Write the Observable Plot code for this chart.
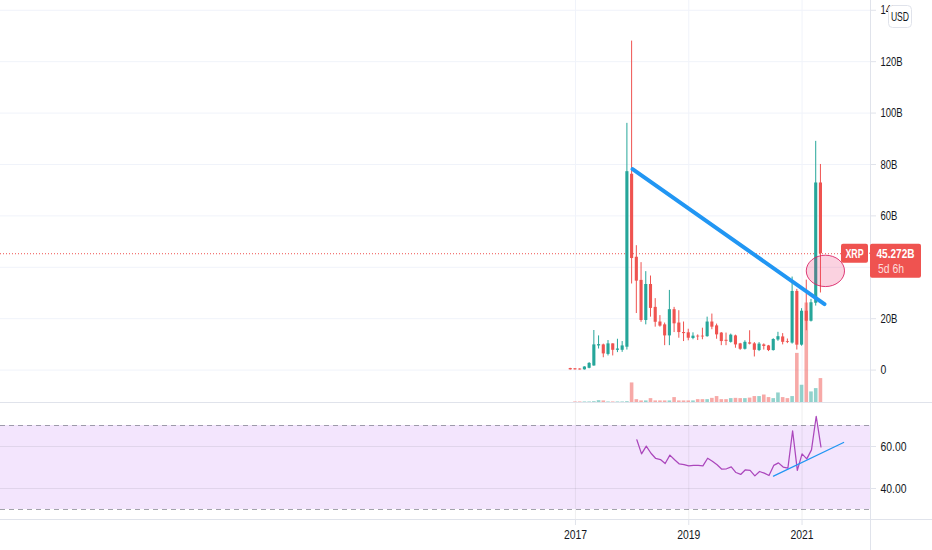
<!DOCTYPE html>
<html>
<head>
<meta charset="utf-8">
<script src="https://cdn.jsdelivr.net/npm/d3@7"></script>
<script src="https://cdn.jsdelivr.net/npm/@observablehq/plot@0.6"></script>
<style>
html,body{margin:0;padding:0;background:#fff;}
#chart{width:932px;height:550px;overflow:hidden;}
#chart svg{display:block;background:#fff;}
</style>
</head>
<body>
<div id="chart"></div>
<script>
// Monthly candles, December 2016 to May 2021 (values in billions of USD)
const firstMonth = -1; // months from January 2017
const opens  = [0.6,0.5,0.4,0.1,0.7,1.6,9.4,9.8,6.1,10.2,7.7,7.7,8.9,76.2,43.9,34.9,19.3,33.3,24.4,18.7,17.6,13.3,23.5,18.3,14.6,14.5,12.3,13.2,13.2,13,18.7,17.2,14.4,11.6,10.8,13.3,10.2,8.1,10.6,10.2,7.6,9.8,9.4,7.6,11.7,12.9,11.1,10.5,30.6,9.7,22.9,19,26,72.8];
const closes = [0.1,0.1,0.05,1.2,2.6,9.8,9.9,6.3,10.2,7.7,8.2,9.4,77.2,43.4,34.6,19.3,33.3,24,18.6,17.1,13.3,23.5,18,14.6,14.2,12.4,13.2,12.9,12.9,18.7,16.7,13.7,11.1,11.2,13.6,9.8,8.1,10.8,10.1,7.7,10.1,9.2,7.6,11.9,13,10.8,10.8,30.6,9.7,22.9,19,26.2,72.8,45.272];
const highs  = [0.7,0.6,0.5,1.3,2.9,15.4,13.3,10.1,11.5,10.2,12,11.1,96,128,48.4,41.8,38.3,36.6,27.8,21.2,18.3,31,24.4,23.1,18.7,15.9,14.5,13.7,16.3,20.6,21.8,17.9,14.6,14.4,14,13.6,10.4,11.4,15.3,10.7,10.7,10.2,9.6,12.2,14.7,14.2,12.1,36.2,31.4,23.9,35,27.5,89,80];
const lows   = [0,0,0,0,0.5,1.5,8.2,4.8,5.5,5.5,6.8,6.9,7.8,33.5,22,18.6,17.6,20.6,16.7,16.7,9.5,9.5,14.6,12.4,11.1,11.4,11.8,11.5,11.8,12.8,15.7,12,9.5,9.5,10.5,8.5,7.7,7.8,9.8,5.1,7.2,7.8,7.2,7.4,11.2,9.8,10.3,10.1,7.8,9.3,15.3,18.7,24.9,30];
const volumes= [0,0.4,0.4,0.4,0.4,0.5,0.9,0.8,0.4,0.4,0.4,0.4,0.5,7.8,1.3,0.8,0.8,1.7,0.8,0.8,0.8,0.8,2.1,0.8,0.8,0.8,0.8,1.3,1.3,1.3,1.8,2.5,1.3,1.3,1.7,1.8,1.7,1.7,1.9,2.5,2.5,3.1,2.1,1.7,3.9,2.1,1.7,2.5,19.3,6.9,38.9,4.3,5.6,9.5];

// RSI, February 2018 to May 2021
const rsiFirstMonth = 13;
const rsi = [63.2,56.5,60.2,56.8,54.3,53.8,51.9,55.9,53.7,51.7,51.4,50.8,51,51,50.8,54.4,53,51.3,49.2,49.4,50.3,47.6,46.7,48.9,48.6,46,48.1,47.3,46.2,51,52.2,50.2,49.7,67.5,48.6,56.5,54.1,58.4,74.4,59.8];

// Hand-drawn annotations
const priceTrendMonths = [12.1, 52.75];
const priceTrendValues = [78.2, 25.7];
const rsiTrendMonths = [41.95, 56.8];
const rsiTrendValues = [45.9, 61.9];
const ellipseMonths = [49, 57.1];
const ellipseValues = [44.5, 32.3];

// Labels
const priceTicks = [0,20,40,60,80,100,120,140];
const rsiTicks = [40,60];
const yearTicks = [0,24,48];
const yearLabels = ["2017","2019","2021"];
const lastPrice = 45.272;
const lastPriceLabel = "45.272B";
const countdownLabel = "5d 6h";
const symbolLabel = "XRP";
const currencyLabel = "USD";

const UP = "#26a69a", DOWN = "#ef5350", GRID = "#f0f3fa", BORDER = "#e0e3eb", INK = "#131722";
const FONT = "'Liberation Sans',sans-serif";
const xDomain = [-121.8, 62.5];

const candles = opens.map((o,i)=>({m:firstMonth+i,o,c:closes[i],h:highs[i],l:lows[i],v:volumes[i],col:closes[i]>=o?UP:DOWN}));
const rsiData = rsi.map((v,i)=>({m:rsiFirstMonth+i,v}));
const priceTrend = priceTrendMonths.map((m,i)=>({m,v:priceTrendValues[i]}));
const rsiTrend = rsiTrendMonths.map((m,i)=>({m,v:rsiTrendValues[i]}));
const paneFloor = -13;
const volBase = -12.8;

const svgNS = "http://www.w3.org/2000/svg";
function el(name, attrs, text){
  const n = document.createElementNS(svgNS,name);
  for(const k in attrs) n.setAttribute(k,attrs[k]);
  if(text!==undefined) n.textContent=text;
  return n;
}

function ellipseMark(index,{x,y}){
  const x1=x(ellipseMonths[0]),x2=x(ellipseMonths[1]),y1=y(ellipseValues[0]),y2=y(ellipseValues[1]);
  return el("ellipse",{cx:(x1+x2)/2,cy:(y1+y2)/2,rx:Math.abs(x2-x1)/2,ry:Math.abs(y2-y1)/2,
    fill:"#e91e63","fill-opacity":0.2,stroke:"#d81b60","stroke-opacity":0.85,"stroke-width":1});
}

function tagsMark(index,{y},_,dim){
  const g=el("g",{});
  const ax=dim.width-dim.marginRight, py=y(lastPrice);
  g.append(el("line",{x1:ax-1,x2:ax+5,y1:py,y2:py,stroke:DOWN}));
  g.append(el("rect",{x:ax-29,y:py-9.5,width:27,height:19,rx:2,fill:DOWN}));
  g.append(el("text",{x:ax-15.5,y:py+4.5,"text-anchor":"middle",fill:"#fff","font-size":13,"font-weight":"bold","font-family":FONT,"data-squeeze":0.68},symbolLabel));
  g.append(el("rect",{x:ax,y:py-9.5,width:51,height:34,rx:2,fill:DOWN}));
  g.append(el("text",{x:ax+25.5,y:py+4.5,"text-anchor":"middle",fill:"#fff","font-size":13,"font-weight":"bold","font-family":FONT,"data-squeeze":0.77},lastPriceLabel));
  g.append(el("text",{x:ax+8,y:py+20,"text-anchor":"start",fill:"#fff","fill-opacity":0.8,"font-size":13,"font-family":FONT,"data-squeeze":0.8},countdownLabel));
  g.append(el("rect",{x:ax+18.5,y:5.5,width:23,height:22,rx:4,fill:"#fff",stroke:BORDER}));
  g.append(el("text",{x:ax+30,y:21,"text-anchor":"middle",fill:INK,"font-size":12,"font-family":FONT,"data-squeeze":0.72},currencyLabel));
  // separator under the price pane, running through the right-hand scale
  g.append(el("line",{x1:0,x2:dim.width,y1:dim.height-0.5,y2:dim.height-0.5,stroke:BORDER}));
  return g;
}

const pricePlot = Plot.plot({
  width:932, height:403, marginTop:0, marginBottom:0, marginLeft:0, marginRight:62,
  style:{fontFamily:FONT,fontSize:"13px",background:"#fff",overflow:"hidden"},
  x:{type:"linear",domain:xDomain,axis:null},
  y:{domain:[paneFloor,143.8],label:null,axis:null},
  marks:[
    Plot.ruleY(priceTicks,{stroke:GRID,strokeWidth:1}),
    Plot.ruleX(yearTicks,{stroke:GRID,strokeWidth:1}),
    Plot.axisY({anchor:"right",ticks:priceTicks,tickFormat:d=>d===0?"0":d+"B",tickSize:5,tickPadding:5,label:null,stroke:BORDER,strokeOpacity:1,fill:INK,fontSize:13}),
    Plot.rect(candles,{x1:d=>d.m-0.38,x2:d=>d.m+0.38,y1:volBase,y2:d=>volBase+d.v,fill:"col",fillOpacity:0.5,inset:0}),
    Plot.ruleY([lastPrice],{stroke:DOWN,strokeDasharray:"1,2",strokeWidth:1}),
    Plot.ruleX(candles,{x:"m",y1:"l",y2:"h",stroke:"col",strokeWidth:1,dx:-0.5}),
    Plot.rect(candles,{x1:d=>d.m-0.33,x2:d=>d.m+0.33,y1:d=>Math.min(d.o,d.c),y2:d=>Math.max(d.o,d.c),fill:"col",inset:0}),
    ellipseMark,
    Plot.line(priceTrend,{x:"m",y:"v",stroke:"#2196f3",strokeWidth:4}),
    Plot.ruleX([62.5],{stroke:BORDER,strokeWidth:1}),
    tagsMark
  ]
});

const rsiPlot = Plot.plot({
  width:932, height:147, marginTop:0, marginBottom:30, marginLeft:0, marginRight:62,
  style:{fontFamily:FONT,fontSize:"13px",background:"#fff",overflow:"hidden"},
  x:{type:"linear",domain:xDomain,label:null,axis:null},
  y:{domain:[24.76,80.48],label:null,axis:null},
  marks:[
    Plot.rect([{a:30,b:70}],{x1:xDomain[0],x2:xDomain[1],y1:"a",y2:"b",fill:"#f3e5fd",inset:0}),
    Plot.ruleY(rsiTicks,{stroke:"#787b86",strokeOpacity:0.15,strokeWidth:1}),
    Plot.ruleX(yearTicks,{stroke:"#787b86",strokeOpacity:0.12,strokeWidth:1}),
    Plot.ruleY([30,70],{stroke:"#787b86",strokeOpacity:0.7,strokeWidth:1,strokeDasharray:"5,4"}),
    Plot.axisY({anchor:"right",ticks:rsiTicks,tickFormat:d=>d.toFixed(2),tickSize:5,tickPadding:5,label:null,stroke:BORDER,strokeOpacity:1,fill:INK,fontSize:13}),
    Plot.axisX({anchor:"bottom",ticks:yearTicks,tickFormat:d=>yearLabels[yearTicks.indexOf(d)],tickSize:5,tickPadding:4,label:null,stroke:BORDER,strokeOpacity:1,fill:INK,fontSize:13}),
    Plot.line(rsiData,{x:"m",y:"v",stroke:"#ab47bc",strokeWidth:1.25}),
    Plot.line(rsiTrend,{x:"m",y:"v",stroke:"#2196f3",strokeWidth:1.25}),
    (index,s,_,dim)=>{
      const g=el("g",{});
      const yb=dim.height-dim.marginBottom;
      g.append(el("line",{x1:0,x2:dim.width,y1:yb-0.5,y2:yb-0.5,stroke:BORDER}));
      g.append(el("line",{x1:dim.width-dim.marginRight+0.5,x2:dim.width-dim.marginRight+0.5,y1:0,y2:dim.height,stroke:BORDER}));
      return g;
    }
  ]
});

document.getElementById("chart").append(pricePlot,rsiPlot);

// The reference's scale font is condensed: narrow each label to its measured width, keeping it as real text.
document.querySelectorAll("#chart svg text").forEach(t=>{
  const given=+t.getAttribute("data-squeeze");
  const ratio=given||(t.textContent.trim().endsWith("B")?0.73:0.8);
  const targets=t.querySelectorAll("tspan").length?[...t.querySelectorAll("tspan")]:[t];
  targets.forEach(n=>{
    const len=n.getComputedTextLength();
    n.setAttribute("textLength",(len*ratio).toFixed(1));
    n.setAttribute("lengthAdjust","spacingAndGlyphs");
  });
});
</script>
</body>
</html>
